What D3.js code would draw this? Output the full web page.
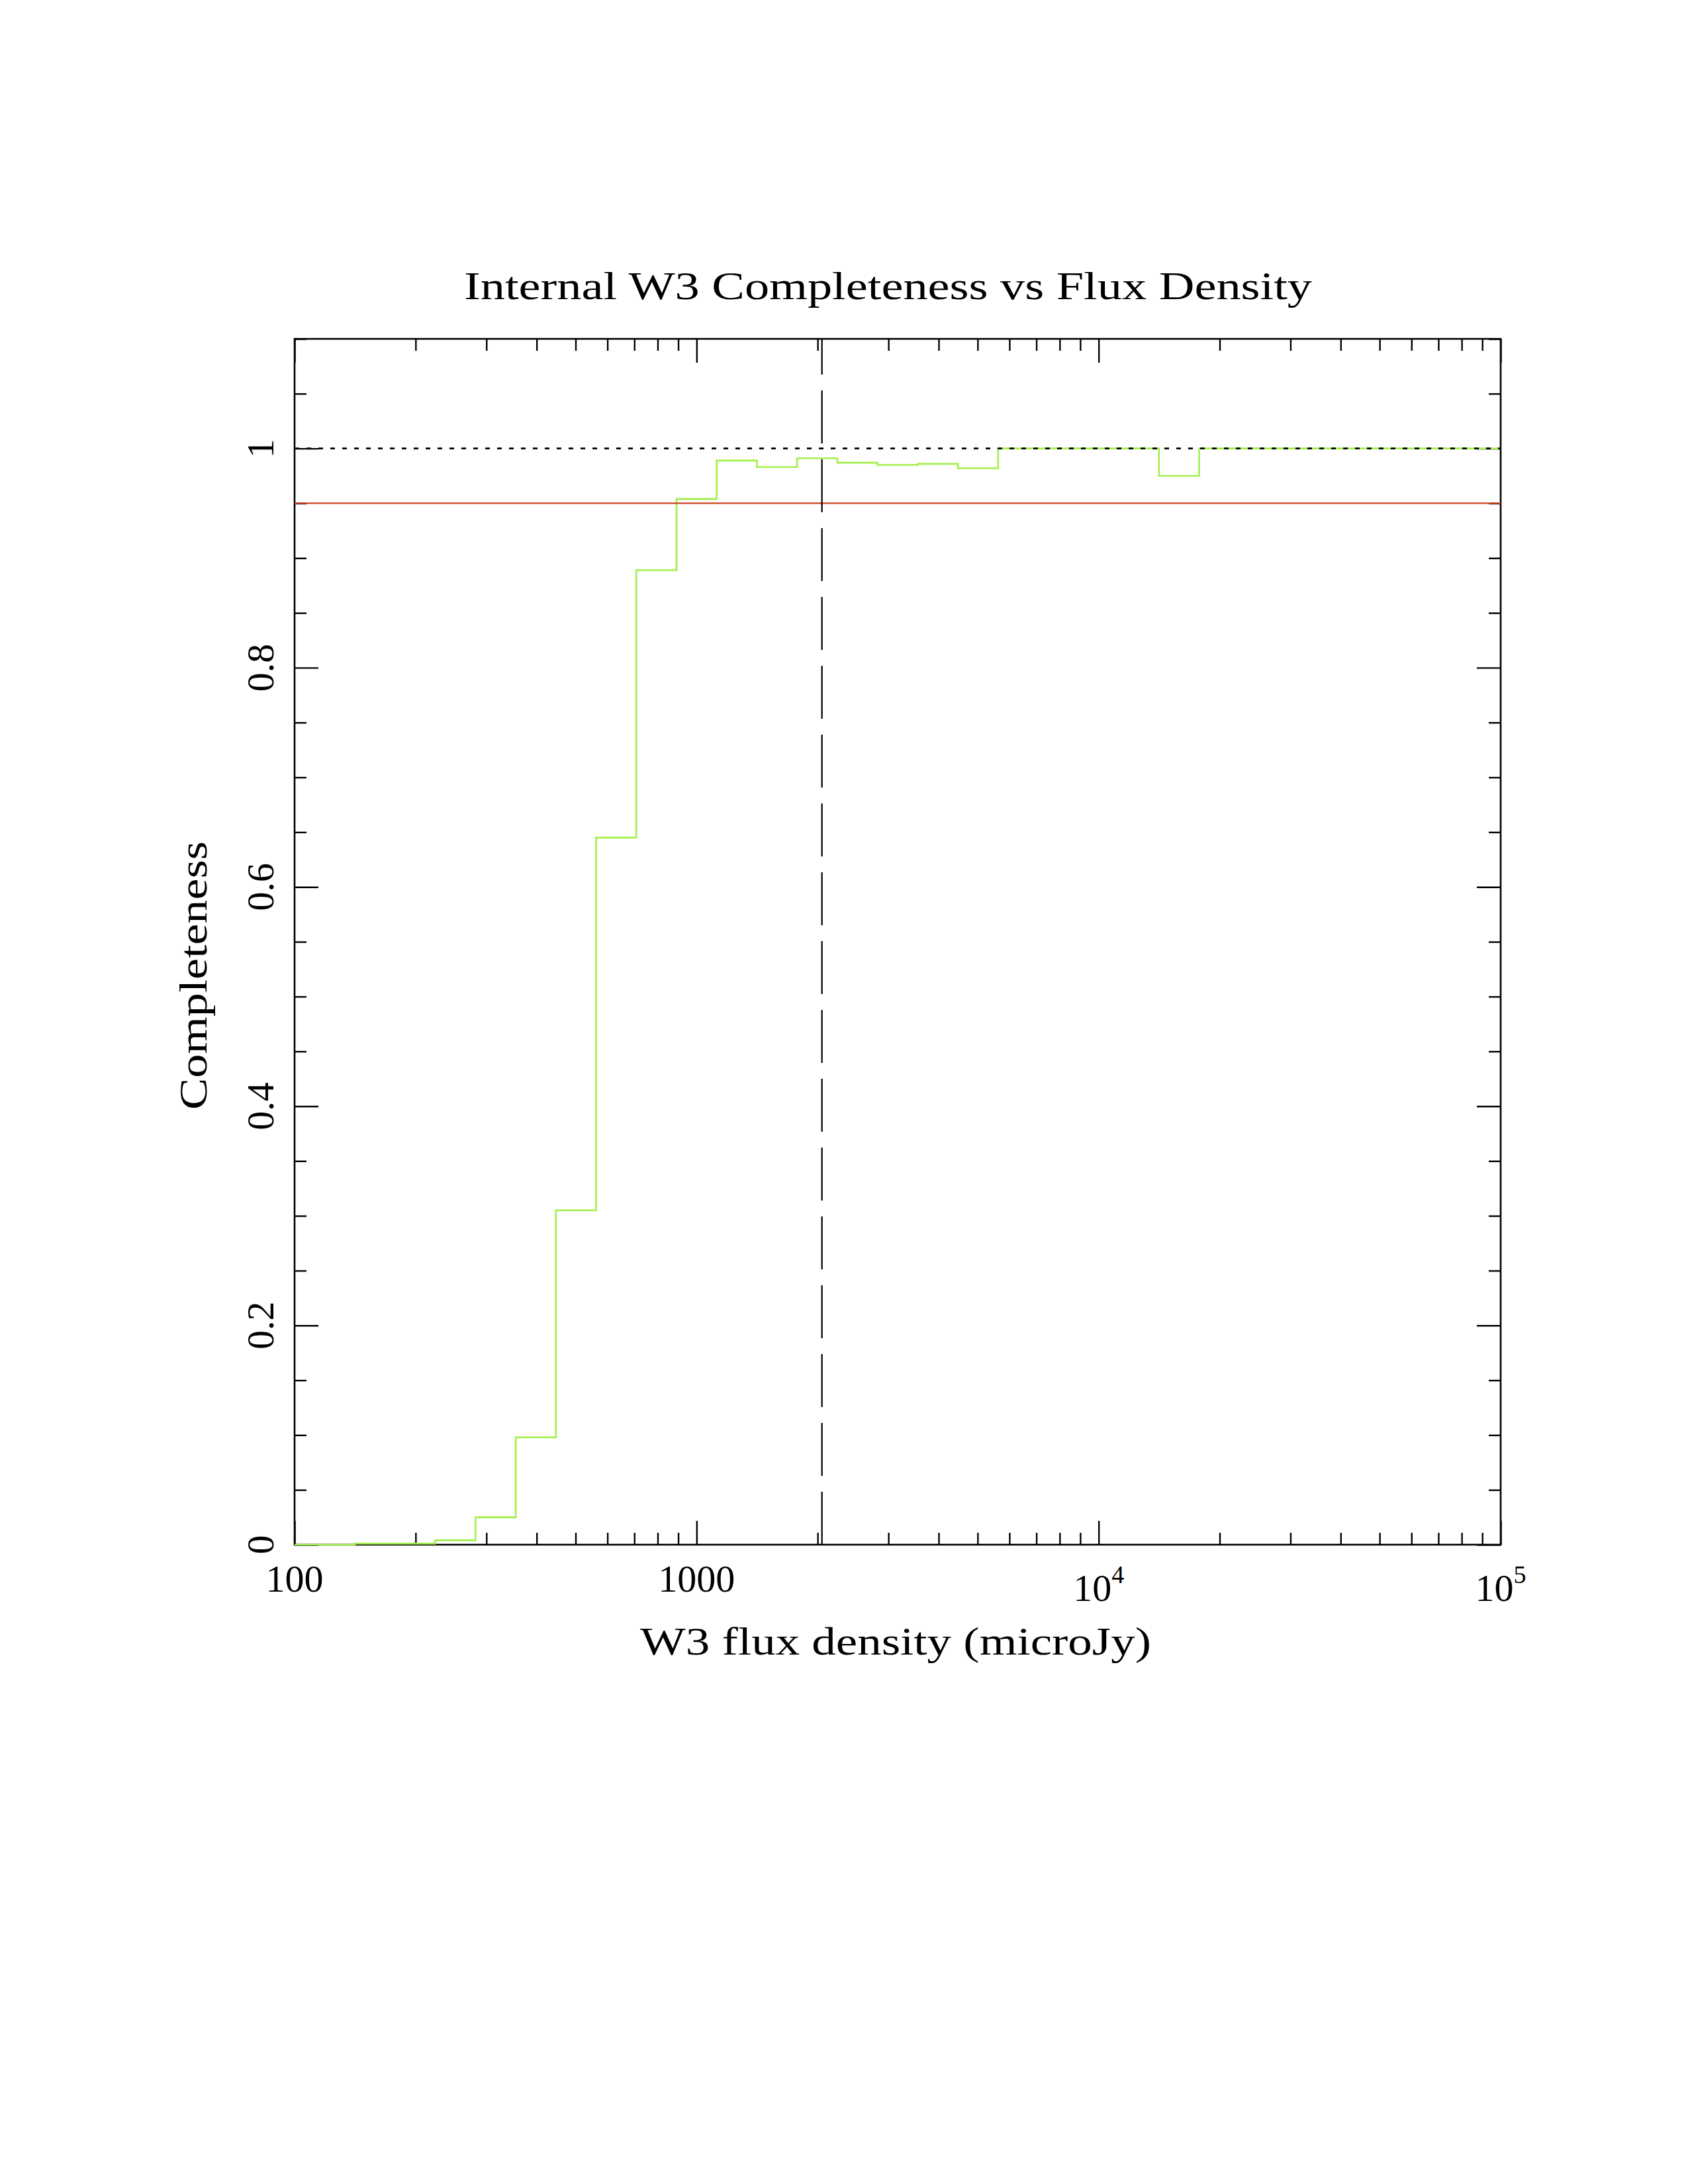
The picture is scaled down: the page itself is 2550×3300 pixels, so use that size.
<!DOCTYPE html>
<html>
<head>
<meta charset="utf-8">
<script src="https://cdn.jsdelivr.net/npm/d3@7"></script>
<style>
  html, body { margin: 0; padding: 0; background: #fff; }
  svg { display: block; }
  text { font-family: "Liberation Serif", "DejaVu Serif", serif; fill: #000; }
</style>
</head>
<body>
<script>
// ---- Data ----
// Bin centres in log10(flux density / microJy); bins are 0.1 dex wide
const binCentersLog = [2.0, 2.1, 2.2, 2.3, 2.4, 2.5, 2.6, 2.7, 2.8, 2.9,
                       3.0, 3.1, 3.2, 3.3, 3.4, 3.5, 3.6, 3.7, 3.8, 3.9,
                       4.0, 4.1, 4.2, 4.3, 4.4, 4.5, 4.6, 4.7, 4.8, 4.9, 5.0];
const completeness  = [0, 0, 0.001, 0.001, 0.004, 0.025, 0.098, 0.305, 0.645, 0.889,
                       0.954, 0.989, 0.983, 0.991, 0.987, 0.985, 0.986, 0.982, 1, 1,
                       1, 1, 0.975, 1, 1, 1, 1, 1, 1, 1, 1];
const binWidthDex = 0.1;
const referenceLevel = 1.0;      // dotted line
const thresholdLevel = 0.95;     // red line
const fluxLimit = 2050;          // vertical dashed line (microJy)

const xDomain = [100, 1e5];
const yDomain = [0, 1.1];
const xMajorTicks = [100, 1000, 1e4, 1e5];
const xTickLabels = [["100", null], ["1000", null], ["10", "4"], ["10", "5"]];
const yMajorTicks = [0, 0.2, 0.4, 0.6, 0.8, 1.0];
const yTickLabels = ["0", "0.2", "0.4", "0.6", "0.8", "1"];

const titleText = "Internal W3 Completeness vs Flux Density";
const xLabelText = "W3 flux density (microJy)";
const yLabelText = "Completeness";

// ---- Layout ----
const W = 2550, H = 3300;
const L = 445, R = 2267, T = 512, B = 2334;
const majorLen = 36, minorLen = 18;
const fontSize = 58;

const svg = d3.select("body").append("svg")
  .attr("width", W).attr("height", H)
  .attr("viewBox", `0 0 ${W} ${H}`);
svg.append("rect").attr("width", W).attr("height", H).attr("fill", "#fff");

const x = d3.scaleLog().domain(xDomain).range([L, R]);
const y = d3.scaleLinear().domain(yDomain).range([B, T]);

// minor tick values
const xMinor = [];
for (let d = 100; d < 1e5; d *= 10) for (let k = 2; k <= 9; k++) xMinor.push(d * k);
const yMinor = d3.range(0, 1.1001, 0.05).map(v => +v.toFixed(2))
  .filter(v => !yMajorTicks.some(m => Math.abs(m - v) < 1e-9));

// ---- Axes (ticks inward on all four sides) ----
function styleAxis(g) {
  g.select(".domain").remove();
  g.selectAll(".tick line").attr("stroke", "#000").attr("stroke-width", 2.4);
  g.selectAll(".tick text").remove();
}
function addAxis(axisGen, vals, len, tx, ty) {
  svg.append("g").attr("transform", `translate(${tx},${ty})`)
    .call(axisGen.tickValues(vals).tickSizeInner(-len).tickSizeOuter(0).tickFormat(() => ""))
    .call(styleAxis);
}
addAxis(d3.axisBottom(x), xMajorTicks, majorLen, 0, B);
addAxis(d3.axisBottom(x), xMinor, minorLen, 0, B);
addAxis(d3.axisTop(x), xMajorTicks, majorLen, 0, T);
addAxis(d3.axisTop(x), xMinor, minorLen, 0, T);
addAxis(d3.axisLeft(y), yMajorTicks, majorLen, L, 0);
addAxis(d3.axisLeft(y), yMinor, minorLen, L, 0);
addAxis(d3.axisRight(y), yMajorTicks, majorLen, R, 0);
addAxis(d3.axisRight(y), yMinor, minorLen, R, 0);

// frame
svg.append("rect").attr("x", L).attr("y", T).attr("width", R - L).attr("height", B - T)
  .attr("fill", "none").attr("stroke", "#000").attr("stroke-width", 2.6);

// ---- Plot contents (drawn over the frame) ----
svg.append("defs").append("clipPath").attr("id", "plotclip")
  .append("rect").attr("x", L).attr("y", T - 2).attr("width", R - L).attr("height", B - T + 4);

const plot = svg.append("g").attr("clip-path", "url(#plotclip)");

// Step histogram
const pts = [];
binCentersLog.forEach((c, i) => {
  pts.push([Math.pow(10, c - binWidthDex / 2), completeness[i]]);
  pts.push([Math.pow(10, c + binWidthDex / 2), completeness[i]]);
});
const line = d3.line().x(d => x(d[0])).y(d => y(d[1]));
plot.append("path").attr("d", line(pts))
  .attr("fill", "none").attr("stroke", "#a2f04a").attr("stroke-width", 2.6)
  .attr("stroke-linejoin", "miter");

// threshold line
plot.append("line")
  .attr("x1", x(xDomain[0])).attr("x2", x(xDomain[1]))
  .attr("y1", y(thresholdLevel)).attr("y2", y(thresholdLevel))
  .attr("stroke", "#cf4520").attr("stroke-width", 2.2);

// dotted reference line
plot.append("line")
  .attr("x1", x(xDomain[0])).attr("x2", x(xDomain[1]))
  .attr("y1", y(referenceLevel)).attr("y2", y(referenceLevel))
  .attr("stroke", "#000").attr("stroke-width", 2.6)
  .attr("stroke-dasharray", "7,11");

// vertical dashed line (drawn bottom to top)
plot.append("line")
  .attr("x1", x(fluxLimit)).attr("x2", x(fluxLimit))
  .attr("y1", y(yDomain[0])).attr("y2", y(yDomain[1]))
  .attr("stroke", "#000").attr("stroke-width", 2.2)
  .attr("stroke-dasharray", "80,24");

// x tick labels
xMajorTicks.forEach((v, i) => {
  const [base, sup] = xTickLabels[i];
  const t = svg.append("text")
    .attr("x", x(v)).attr("y", sup ? 2419 : 2405)
    .attr("text-anchor", "middle").attr("font-size", fontSize);
  t.append("tspan").text(base);
  if (sup) {
    t.append("tspan").attr("dy", -27).attr("font-size", 38).text(sup);
  }
});

// y tick labels (rotated)
yMajorTicks.forEach((v, i) => {
  svg.append("text")
    .attr("transform", `translate(413,${y(v)}) rotate(-90)`)
    .attr("text-anchor", "middle").attr("font-size", fontSize)
    .text(yTickLabels[i]);
});

// title
svg.append("text")
  .attr("x", 1341.5).attr("y", 452).attr("text-anchor", "middle")
  .attr("font-size", 60)
  .attr("textLength", 1281).attr("lengthAdjust", "spacingAndGlyphs")
  .text(titleText);

// x label
svg.append("text")
  .attr("x", 1353).attr("y", 2500).attr("text-anchor", "middle")
  .attr("font-size", 60)
  .attr("textLength", 772).attr("lengthAdjust", "spacingAndGlyphs")
  .text(xLabelText);

// y label
svg.append("text")
  .attr("transform", "translate(312,1474) rotate(-90)")
  .attr("text-anchor", "middle").attr("font-size", 60)
  .attr("textLength", 406).attr("lengthAdjust", "spacingAndGlyphs")
  .text(yLabelText);
</script>
</body>
</html>
